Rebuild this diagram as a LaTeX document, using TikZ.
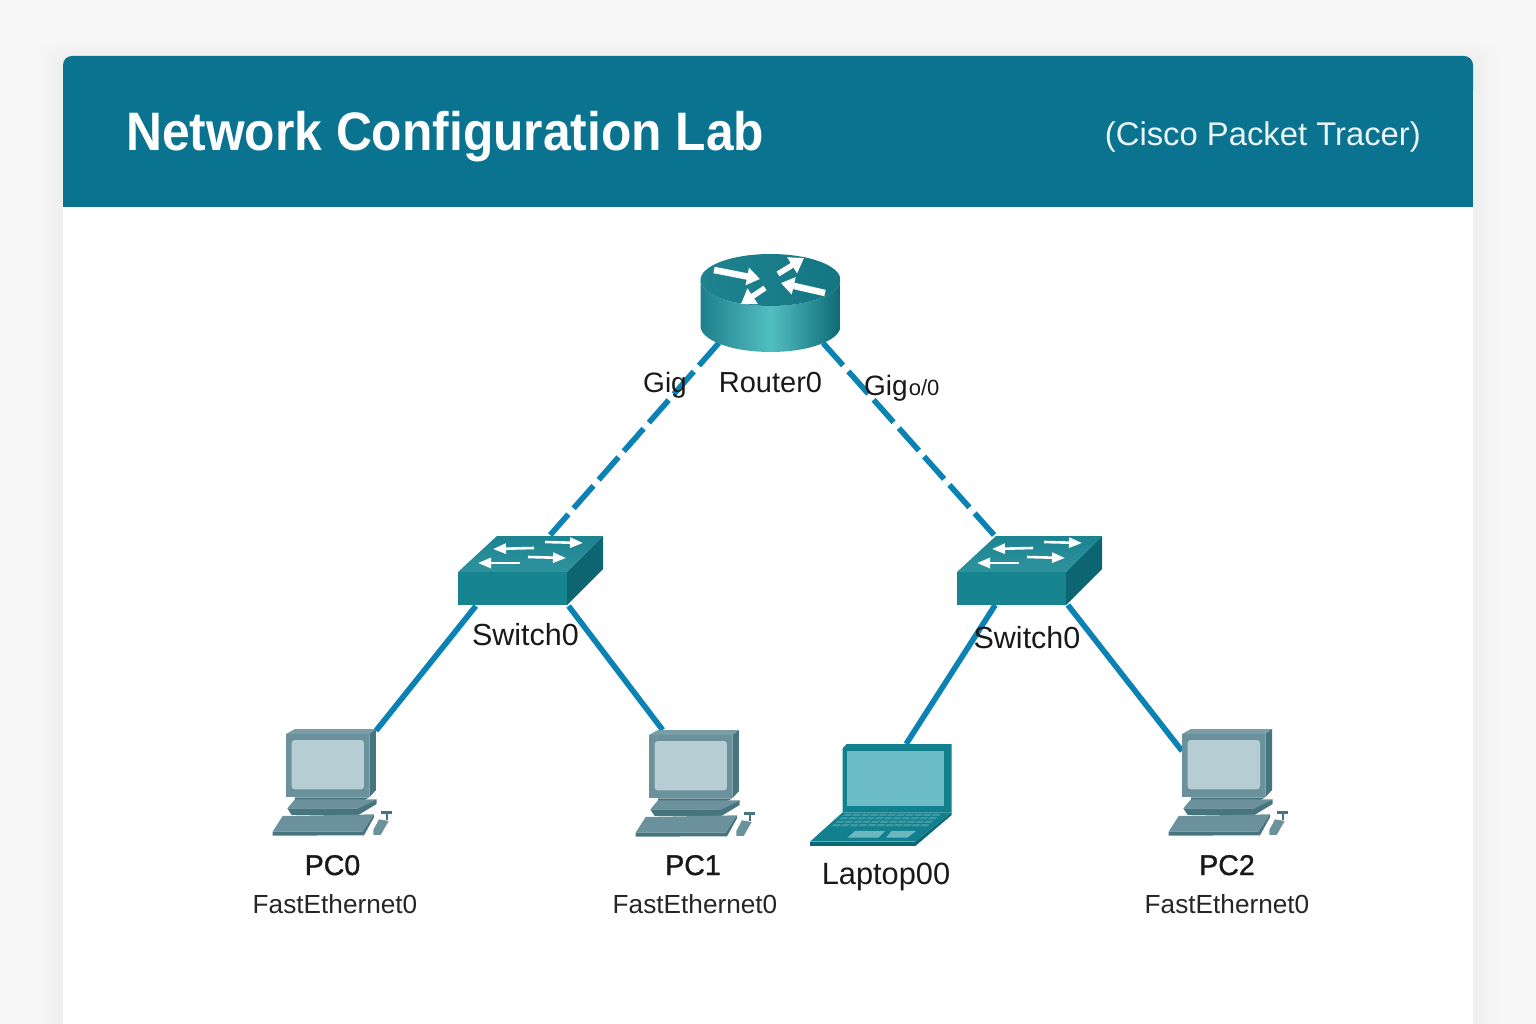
\documentclass[tikz,border=0pt]{standalone}
\usepackage{fontspec}
\setmainfont{Liberation Sans}
\newfontfamily\medfont[FakeBold=1.2]{Liberation Sans}
\usetikzlibrary{arrows.meta}
\definecolor{pagebg}{HTML}{F7F7F7}
\definecolor{headbg}{HTML}{0A7390}
\definecolor{linkc}{HTML}{0A82B4}
\definecolor{pcfront}{HTML}{6B929C}
\definecolor{pctop}{HTML}{7A9EA7}
\definecolor{pcside}{HTML}{47757F}
\definecolor{pcscreen}{HTML}{B7CDD4}
\definecolor{lapbody}{HTML}{12808E}
\definecolor{lapscreen}{HTML}{6DBDC8}
\definecolor{lapdark}{HTML}{0C6A78}
\definecolor{lapkey}{HTML}{3E9BA6}
\definecolor{lappad}{HTML}{6DB8C0}
\definecolor{swtopa}{HTML}{1B8390}
\definecolor{swtopb}{HTML}{2F939E}
\definecolor{swfront}{HTML}{16858F}
\definecolor{swside}{HTML}{0C6570}
\definecolor{rtmid}{HTML}{52BEC2}
\definecolor{rtedgel}{HTML}{1F7F8A}
\definecolor{rtedger}{HTML}{0D6A75}
\definecolor{rttopl}{HTML}{1E838F}
\definecolor{rttopr}{HTML}{157683}
\tikzset{
 devbox/.style={draw=none,fill=none,inner sep=0pt,outer sep=0pt},
 link/.style={linkc,line width=5.6pt},
 dashlink/.style={link,dash pattern=on 30pt off 8pt},
 lbl/.style={inner sep=0pt,outer sep=0pt,text=black!90,font=\fontsize{29}{32}\selectfont},
 namelbl/.style={inner sep=0pt,outer sep=0pt,text=black!90,font=\medfont\fontsize{28.5}{32}\selectfont},
 portlbl/.style={inner sep=0pt,outer sep=0pt,text=black!85,font=\fontsize{26.2}{30}\selectfont},
 swarrow/.style={white,line width=2.6pt,-{Triangle[width=10pt,length=13pt]}},
 rtarrow/.style={white,line width=6.5pt,-{Triangle[width=17pt,length=13pt]}},
 rtarrowb/.style={white,line width=5.5pt,-{Triangle[width=18pt,length=14pt]}},
}
\newcommand{\swicon}[1]{%
\begin{scope}[shift={(#1,0)}]
 \path[bottom color=swtopb,top color=swtopa] (458,572) -- (497,536) -- (603,536) -- (567,572) -- cycle;
 \fill[swfront] (458,572) rectangle (567,605);
 \fill[swside] (567,572) -- (603,536) -- (603,569) -- (567,605) -- cycle;
 \draw[swarrow] (534,548) -- (493,549);
 \draw[swarrow] (545,542) -- (583,543);
 \draw[swarrow] (528,557) -- (566,558);
 \draw[swarrow] (520,563) -- (478,563);
\end{scope}}
\newcommand{\pcicon}[2]{%
\begin{scope}[shift={(#1,#2)},x=0.3333pt,y=-0.3333pt]
 \fill[pctop] (108,42) -- (135,27) -- (378,27) -- (358,42) -- cycle;
 \fill[pcside] (358,42) -- (378,27) -- (378,210) -- (358,232) -- cycle;
 \fill[pcfront] (108,42) rectangle (358,232);
 \fill[pcscreen,rounded corners=3pt] (125,60) rectangle (342,208);
 \fill[pcside] (135,232) -- (358,232) -- (340,242) -- (135,242) -- cycle;
 \fill[pcfront] (135,238) -- (380,238) -- (325,265) -- (112,265) -- cycle;
 \fill[pcside] (112,265) -- (325,265) -- (380,238) -- (380,252) -- (325,285) -- (125,285) -- cycle;
 \fill[pcfront] (98,288) -- (372,283) -- (338,335) -- (68,335) -- cycle;
 \fill[pcside] (68,335) -- (338,335) -- (372,283) -- (372,292) -- (342,346) -- (68,347) -- cycle;
 \fill[pcside] (393,273) -- (425,273) -- (425,281) -- (393,281) -- cycle;
 \fill[pcside] (408,281) -- (414,281) -- (414,300) -- (408,300) -- cycle;
 \fill[pcfront] (387,298) -- (416,303) -- (392,345) -- (370,345) -- (370,330) -- cycle;
\end{scope}}
\newcommand{\lapicon}{%
\begin{scope}[shift={(800,735)},x=0.3333pt,y=-0.3333pt]
 \fill[lapbody] (128,40) -- (140,27) -- (455,27) -- (455,232) -- (128,232) -- cycle;
 \fill[lapscreen] (140,47) rectangle (432,213);
 \fill[lapbody] (128,232) -- (455,232) -- (345,320) -- (30,320) -- cycle;
 \fill[lapdark] (30,320) -- (345,320) -- (345,334) -- (30,334) -- cycle;
 \fill[lapdark] (345,320) -- (455,232) -- (455,240) -- (345,334) -- cycle;
 \foreach \r in {0,1,2,3}{
  \pgfmathsetmacro{\ya}{236+\r*10.5}
  \pgfmathsetmacro{\yb}{\ya+7}
  \foreach \c in {0,...,10}{
   \pgfmathsetmacro{\xla}{132-(\ya-240)*.95+\c*26.5-\r*1.5}
   \pgfmathsetmacro{\xlb}{\xla-7}
   \fill[lapkey] (\xla,\ya) -- (\xla+22,\ya) -- (\xlb+22,\yb) -- (\xlb,\yb) -- cycle;
  }
 }
 \fill[lappad] (165,288) -- (255,288) -- (235,308) -- (142,308) -- cycle;
 \fill[lappad] (275,288) -- (348,288) -- (322,308) -- (258,308) -- cycle;
\end{scope}}
\begin{document}
\begin{tikzpicture}[x=1pt,y=-1pt]
\useasboundingbox (0,0) rectangle (1536,1024);
\clip (0,0) rectangle (1536,1024);
\fill[pagebg] (0,0) rectangle (1536,1024);
% soft shadow of the card, from its faint rim inward
\foreach \i in {30,27,...,3}{
 \pgfmathsetmacro{\lev}{0.969-(30-\i)/30*0.035}
 \definecolor{shadelev}{gray}{\lev}
 \fill[shadelev,rounded corners=12pt] (63-\i,56-\i*0.5) rectangle (1473+\i,1100);
}
\fill[white,rounded corners=9pt] (63,56) rectangle (1473,1100);
\fill[headbg,rounded corners=9pt] (63,56) rectangle (1473,100);
\fill[headbg] (63,80) rectangle (1473,207);
\node[anchor=base west,inner sep=0pt,text=white,font=\bfseries\fontsize{49.7}{60}\selectfont] (title) at (126,151) {\scalebox{1}[1.09]{Network Configuration Lab}};
\node[anchor=base east,inner sep=0pt,text=white!92!headbg,font=\fontsize{32.8}{38}\selectfont] (subtitle) at (1421,146) {(Cisco Packet Tracer)};
% invisible device boxes
\node[devbox,minimum width=140pt,minimum height=80pt] (router) at (770,303) {};
\node[devbox,minimum width=145pt,minimum height=71pt] (sw0) at (530.5,570.5) {};
\node[devbox,minimum width=144pt,minimum height=70pt] (sw1) at (1029,570) {};
\node[devbox,minimum width=90pt,minimum height=107pt] (pc0) at (331,782.5) {};
\node[devbox,minimum width=91pt,minimum height=106pt] (pc1) at (694.5,783) {};
\node[devbox,minimum width=142pt,minimum height=103pt] (laptop) at (881,795.5) {};
\node[devbox,minimum width=90pt,minimum height=107pt] (pc2) at (1227,782.5) {};
% connectors
\draw[dashlink] (router.218.9) -- (sw0.61.2);
\draw[dashlink] (router.-37.6) -- (sw1.135.8);
\draw[link] (sw0.213.1) -- (pc0.49.9);
\draw[link] (sw0.-43) -- (pc1.121.5);
\draw[link] (sw1.226.7) -- (laptop.64.9);
\draw[link] (sw1.-42.6) -- (pc2.145.9);
% router icon
\path[left color=rtedgel,right color=rtedger,middle color=rtmid]
 (700.5,280) -- (700.5,326) arc[start angle=180,end angle=360,x radius=70pt,y radius=26pt] -- (840.5,280) arc[start angle=360,end angle=180,x radius=70pt,y radius=26pt] -- cycle;
\path[left color=rttopl,right color=rttopr] (770.5,280) ellipse[x radius=70pt,y radius=26pt];
\draw[rtarrow] (714,270) -- (760,279);
\draw[rtarrowb] (778,274) -- (804,258);
\draw[rtarrow] (825,293) -- (781,283);
\draw[rtarrowb] (765,288) -- (741,304);
\swicon{0}
\swicon{499}
\pcicon{250}{720}
\pcicon{613}{721}
\pcicon{1146}{720}
\lapicon
% labels
\node[lbl,anchor=base,font=\fontsize{28}{32}\selectfont] (lgigl) at (665,392) {Gig};
\node[lbl,anchor=base] (lrouter) at (770.5,392) {Router0};
\node[anchor=base west,inner sep=0pt,text=black!90] (lgigr) at (864,395) {\fontsize{28}{32}\selectfont Gig\kern1pt\fontsize{22}{24}\selectfont o/0};
\node[lbl,anchor=base,font=\fontsize{30.5}{34}\selectfont] (lsw0) at (525.5,645) {Switch0};
\node[lbl,anchor=base,font=\fontsize{30.5}{34}\selectfont] (lsw1) at (1027,648) {Switch0};
\node[namelbl,anchor=base] (lpc0) at (332.5,875) {PC0};
\node[portlbl,anchor=base] (lfe0) at (335,913) {FastEthernet0};
\node[namelbl,anchor=base] (lpc1) at (693,875) {PC1};
\node[portlbl,anchor=base] (lfe1) at (695,913) {FastEthernet0};
\node[lbl,anchor=base,font=\fontsize{30.8}{34}\selectfont] (llap) at (886,884) {Laptop00};
\node[namelbl,anchor=base] (lpc2) at (1227,875) {PC2};
\node[portlbl,anchor=base] (lfe2) at (1227,913) {FastEthernet0};
\end{tikzpicture}
\end{document}
